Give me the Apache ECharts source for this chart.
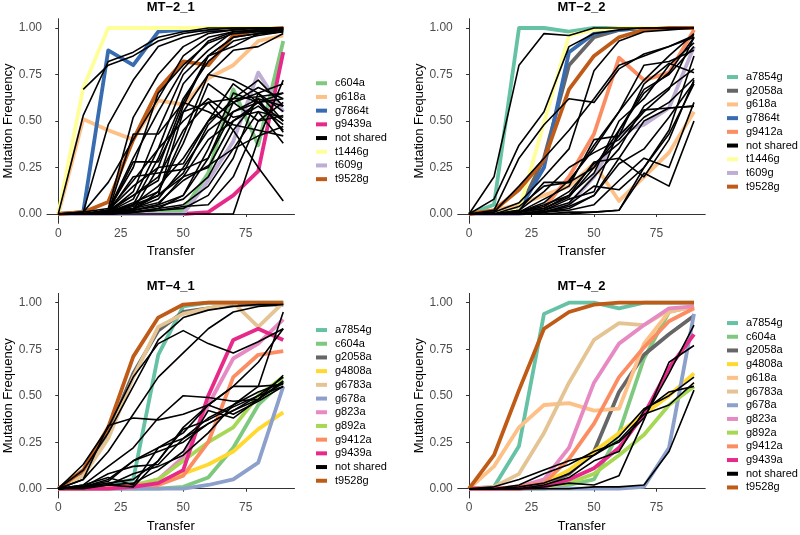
<!DOCTYPE html>
<html>
<head>
<meta charset="utf-8">
<script src="https://cdn.jsdelivr.net/npm/echarts@6/dist/echarts.min.js"></script>
<style>
html,body{margin:0;padding:0;background:#fff;}
#chart{width:800px;height:535px;}
</style>
</head>
<body>
<div id="chart"></div>
<script>
// ---------- DATA ----------
const transfers = [0, 10, 20, 30, 40, 50, 60, 70, 80, 90];
const xTicks = [0, 25, 50, 75];
const yTicks = [0, 0.25, 0.5, 0.75, 1];
const panelTitles = ['MT−2_1', 'MT−2_2', 'MT−4_1', 'MT−4_2'];

// MT-2_1
const mt21Genes = ['c604a', 'g618a', 'g7864t', 'g9439a', 't1446g', 't609g', 't9528g'];
const mt21Freq = [
  [0, 0, 0, 0, 0.01, 0.02, 0.22, 0.67, 0.37, 0.93],
  [0, 0.51, 0.45, 0.40, 0.61, 0.59, 0.73, 0.80, 0.93, 0.96],
  [0, 0.01, 0.88, 0.80, 0.98, 0.99, 0.99, 1, 1, 1],
  [0, 0, 0, 0, 0, 0, 0.01, 0.10, 0.23, 0.87],
  [0, 0.68, 1, 1, 1, 1, 1, 1, 1, 1],
  [0, 0, 0, 0, 0, 0, 0.18, 0.39, 0.76, 0.55],
  [0, 0.01, 0.065, 0.40, 0.67, 0.82, 0.80, 0.96, 0.99, 1]
];
const mt21NotShared = [
  [null, 0.67, 0.80, 0.85, 0.93, 0.97, 0.99, 1, 1, 1],
  [0, 0.53, 0.82, 0.87, 0.95, 0.98, 1, 1, 1, 1],
  [0, 0.01, 0.48, 0.72, 0.90, 0.95, 0.98, 0.99, 1, 1],
  [0, 0.01, 0.03, 0.52, 0.75, 0.90, 0.97, 0.99, 1, 1],
  [0, 0.01, 0.17, 0.40, 0.62, 0.85, 0.95, 0.98, 0.99, 1],
  [0, 0, 0.02, 0.30, 0.55, 0.78, 0.93, 0.98, 0.99, 0.99],
  [0, 0, 0.02, 0.25, 0.65, 0.80, 0.92, 0.97, 0.98, 0.99],
  [0, 0, 0.01, 0.12, 0.45, 0.75, 0.88, 0.98, 0.98, 0.99],
  [0, 0, 0.01, 0.08, 0.35, 0.70, 0.85, 0.95, 0.97, 0.98],
  [0, 0, 0.01, 0.05, 0.30, 0.62, 0.82, 0.93, 0.96, 0.98],
  [0, 0, 0.01, 0.43, 0.43, 0.60, 0.85, 0.90, 0.97, 0.99],
  [0, 0, 0.01, 0.28, 0.28, 0.55, 0.75, 0.88, 0.90, 0.97],
  [0, 0, 0.01, 0.10, 0.20, 0.45, 0.60, 0.62, 0.63, 0.65],
  [0, 0, 0.02, 0.15, 0.25, 0.60, 0.55, 0.48, 0.45, 0.42],
  [0, 0, 0.01, 0.05, 0.15, 0.30, 0.50, 0.60, 0.65, 0.55],
  [0, 0, 0.01, 0.03, 0.08, 0.25, 0.45, 0.55, 0.60, 0.50],
  [0, 0, 0, 0.02, 0.05, 0.20, 0.40, 0.50, 0.58, 0.48],
  [0, 0, 0.01, 0.05, 0.10, 0.55, 0.60, 0.45, 0.25, 0.07],
  [0, 0, 0, 0, 0, 0, 0, 0, 0.40, 0.72],
  [0, 0, 0.01, 0.02, 0.05, 0.10, 0.30, 0.55, 0.62, 0.58],
  [0, 0, 0, 0.02, 0.04, 0.08, 0.20, 0.45, 0.62, 0.44],
  [0, 0, 0, 0.01, 0.03, 0.05, 0.15, 0.35, 0.55, 0.38],
  [0, 0, 0.01, 0.20, 0.22, 0.24, 0.30, 0.60, 0.68, 0.62],
  [0, 0, 0.02, 0.18, 0.35, 0.50, 0.62, 0.52, 0.55, 0.52],
  [0, 0, 0.01, 0.06, 0.12, 0.38, 0.70, 0.60, 0.50, 0.60],
  [0, 0, 0, 0.02, 0.12, 0.42, 0.75, 0.72, 0.65, 0.70],
  [0, 0, 0.01, 0.03, 0.06, 0.18, 0.26, 0.35, 0.42, 0.47],
  [0, 0, 0.02, 0.10, 0.18, 0.58, 0.85, 0.95, 0.97, 0.98],
  [0, 0, 0.01, 0.04, 0.10, 0.22, 0.48, 0.62, 0.72, 0.58],
  [0, 0, 0, 0.01, 0.02, 0.04, 0.05, 0.20, 0.50, 0.53],
  [0, 0, 0, 0.01, 0.03, 0.10, 0.35, 0.65, 0.60, 0.62],
  [0, 0, 0.01, 0.02, 0.25, 0.27, 0.50, 0.70, 0.60, 0.65],
  [0, 0, 0, 0.01, 0.02, 0.03, 0.10, 0.30, 0.65, 0.50],
  [0, 0, 0.01, 0.03, 0.10, 0.20, 0.25, 0.50, 0.60, 0.45]
];

// MT-2_2
const mt22Genes = ['a7854g', 'g2058a', 'g618a', 'g7864t', 'g9412a', 't1446g', 't609g', 't9528g'];
const mt22Freq = [
  [0, 0.05, 1.0, 1.0, 0.98, 1, 1, 1, 1, 1],
  [0, 0.01, 0.02, 0.30, 0.80, 0.95, 0.99, 1, 1, 1],
  [0, 0.02, 0.05, 0.10, 0.15, 0.27, 0.07, 0.20, 0.33, 0.55],
  [0, 0.01, 0.02, 0.25, 0.87, 0.97, 0.99, 1, 1, 1],
  [0, 0, 0.01, 0.03, 0.20, 0.43, 0.84, 0.72, 0.76, 0.99],
  [0, 0.01, 0.02, 0.49, 0.96, 0.99, 1, 1, 1, 1],
  [0, 0, 0, 0.02, 0.05, 0.20, 0.44, 0.48, 0.57, 0.90],
  [0, 0.02, 0.13, 0.29, 0.67, 0.85, 0.95, 0.99, 1, 1]
];
const mt22NotShared = [
  [0, 0.20, 0.80, 0.97, 0.96, 1, 1, 1, 1, 1],
  [0, 0.08, 0.37, 0.55, 0.90, 0.97, 0.99, 1, 1, 1],
  [0, 0.02, 0.30, 0.48, 0.62, 0.60, 0.78, 0.86, 0.90, 0.96],
  [0, 0.01, 0.15, 0.30, 0.45, 0.62, 0.80, 0.85, 0.90, 0.95],
  [0, 0.01, 0.06, 0.20, 0.35, 0.77, 0.93, 0.98, 0.99, 1],
  [0, 0, 0.04, 0.15, 0.17, 0.37, 0.55, 0.80, 0.82, 0.88],
  [0, 0, 0.02, 0.17, 0.17, 0.25, 0.45, 0.65, 0.76, 0.95],
  [0, 0, 0.01, 0.08, 0.15, 0.40, 0.42, 0.70, 0.81, 0.76],
  [0, 0, 0.01, 0.05, 0.10, 0.22, 0.50, 0.62, 0.80, 0.92],
  [0, 0, 0.01, 0.04, 0.12, 0.27, 0.38, 0.52, 0.60, 0.73],
  [0, 0, 0.01, 0.03, 0.09, 0.25, 0.42, 0.56, 0.57, 0.58],
  [0, 0, 0, 0.02, 0.06, 0.20, 0.35, 0.58, 0.68, 0.78],
  [0, 0, 0, 0.01, 0.05, 0.15, 0.13, 0.25, 0.43, 0.70],
  [0, 0, 0, 0.01, 0.03, 0.10, 0.30, 0.20, 0.40, 0.72],
  [0, 0, 0, 0.01, 0.02, 0.05, 0.18, 0.30, 0.25, 0.60],
  [0, 0, 0, 0, 0.01, 0.01, 0.02, 0.25, 0.45, 0.85],
  [0, 0, 0, 0, 0, 0.01, 0.02, 0.22, 0.15, 0.50],
  [0, 0, 0.02, 0.12, 0.25, 0.33, 0.40, 0.55, 0.67, 0.95],
  [0, 0, 0.01, 0.06, 0.18, 0.35, 0.55, 0.72, 0.85, 0.97],
  [0, 0, 0, 0.02, 0.08, 0.12, 0.45, 0.67, 0.75, 0.90],
  [0, 0, 0.01, 0.03, 0.10, 0.28, 0.30, 0.50, 0.57, 0.58],
  [0, 0, 0, 0.01, 0.04, 0.10, 0.27, 0.35, 0.52, 0.71]
];

// MT-4_1
const mt41Genes = ['a7854g', 'c604a', 'g2058a', 'g4808a', 'g6783a', 'g678a', 'g823a', 'g892a', 'g9412a', 'g9439a', 't9528g'];
const mt41Freq = [
  [0, 0.01, 0.02, 0.05, 0.72, 0.98, 1, 1, 1, 1],
  [0, 0, 0, 0, 0, 0.01, 0.06, 0.22, 0.45, 0.58],
  [0, 0.08, 0.30, 0.62, 0.85, 0.95, 0.97, 0.99, 0.99, 0.99],
  [0, 0, 0, 0.01, 0.04, 0.08, 0.13, 0.20, 0.32, 0.41],
  [0, 0.07, 0.27, 0.60, 0.87, 0.94, 0.97, 1, 0.87, 1],
  [0, 0, 0, 0, 0, 0, 0.02, 0.05, 0.14, 0.55],
  [0, 0, 0.01, 0.01, 0.05, 0.17, 0.45, 0.70, 0.78, 0.91],
  [0, 0, 0.01, 0.02, 0.05, 0.15, 0.25, 0.33, 0.50, 0.60],
  [0, 0, 0.01, 0.02, 0.02, 0.07, 0.25, 0.60, 0.72, 0.74],
  [0, 0, 0, 0.01, 0.03, 0.10, 0.50, 0.80, 0.86, 0.80],
  [0, 0.10, 0.33, 0.71, 0.92, 0.99, 1, 1, 1, 1]
];
const mt41NotShared = [
  [0, 0.13, 0.33, 0.60, 0.78, 0.85, 0.78, 0.73, 0.79, 0.86],
  [0, 0.10, 0.30, 0.55, 0.80, 0.92, 0.96, 0.98, 0.99, 0.99],
  [0, 0.05, 0.20, 0.40, 0.60, 0.73, 0.86, 0.95, 0.98, 0.99],
  [0, 0.05, 0.34, 0.38, 0.37, 0.40, 0.45, 0.55, 0.55, 0.56],
  [0, 0.02, 0.12, 0.22, 0.38, 0.50, 0.49, 0.47, 0.48, 0.57],
  [0, 0.01, 0.05, 0.15, 0.22, 0.30, 0.45, 0.55, 0.68, 0.86],
  [0, 0.01, 0.08, 0.12, 0.13, 0.27, 0.38, 0.45, 0.55, 0.95],
  [0, 0.01, 0.04, 0.15, 0.20, 0.25, 0.35, 0.42, 0.48, 0.58],
  [0, 0.01, 0.03, 0.05, 0.15, 0.32, 0.37, 0.44, 0.50, 0.55],
  [0, 0.01, 0.02, 0.03, 0.10, 0.20, 0.42, 0.38, 0.48, 0.61],
  [0, 0, 0.02, 0.08, 0.12, 0.18, 0.30, 0.45, 0.52, 0.57],
  [0, 0.02, 0.06, 0.02, 0.22, 0.27, 0.35, 0.42, 0.50, 0.60],
  [0, 0.01, 0.02, 0.01, 0.15, 0.33, 0.45, 0.40, 0.47, 0.55]
];

// MT-4_2
const mt42Genes = ['a7854g', 'c604a', 'g2058a', 'g4808a', 'g618a', 'g6783a', 'g678a', 'g823a', 'g892a', 'g9412a', 'g9439a', 't9528g'];
const mt42Freq = [
  [0, 0.01, 0.23, 0.94, 1, 1, 0.97, 1, 1, 1],
  [0, 0, 0, 0, 0.02, 0.05, 0.30, 0.70, 0.95, 0.98],
  [0, 0, 0, 0.02, 0.08, 0.20, 0.52, 0.72, 0.83, 0.93],
  [0, 0, 0, 0.03, 0.10, 0.20, 0.30, 0.40, 0.50, 0.62],
  [0, 0.12, 0.33, 0.45, 0.46, 0.42, 0.43, 0.78, 0.95, 0.98],
  [0, 0.01, 0.08, 0.30, 0.57, 0.80, 0.89, 0.88, 0.96, 0.98],
  [0, 0, 0, 0, 0, 0, 0, 0.01, 0.22, 0.94],
  [0, 0, 0.01, 0.05, 0.22, 0.57, 0.78, 0.88, 0.97, 0.98],
  [0, 0, 0, 0.01, 0.03, 0.08, 0.18, 0.29, 0.45, 0.55],
  [0, 0, 0.01, 0.03, 0.16, 0.35, 0.60, 0.76, 0.90, 0.97],
  [0, 0, 0, 0.01, 0.05, 0.11, 0.22, 0.40, 0.65, 0.83],
  [0, 0.18, 0.53, 0.86, 0.95, 0.99, 1, 1, 1, 1]
];
const mt42NotShared = [
  [0, 0.01, 0.05, 0.10, 0.15, 0.18, 0.28, 0.43, 0.50, 0.60],
  [0, 0, 0.01, 0.03, 0.08, 0.18, 0.26, 0.40, 0.45, 0.57],
  [0, 0, 0, 0.01, 0.03, 0.02, 0.07, 0.37, 0.68, 0.77],
  [0, 0, 0, 0, 0, 0.01, 0.01, 0.02, 0.20, 0.53],
  [0, 0, 0, 0.02, 0.06, 0.15, 0.20, 0.42, 0.52, 0.55],
  [0, 0, 0.02, 0.08, 0.13, 0.20, 0.25, 0.38, 0.62, 0.88]
];

// ---------- STYLE ----------
const geneColors = {
  'a7854g': '#66C2A5', 'c604a': '#7FC97F', 'g2058a': '#666666', 'g4808a': '#FFD92F',
  'g618a': '#FDC086', 'g6783a': '#E5C494', 'g678a': '#8DA0CB', 'g823a': '#E78AC3',
  'g892a': '#A6D854', 'g9412a': '#FC8D62', 'g9439a': '#E7298A', 'g7864t': '#386CB0',
  't1446g': '#FFFF99', 't609g': '#BEAED4', 't9528g': '#BF5B17', 'not shared': '#000000'
};
const FONT = 'Liberation Sans, Arial, Helvetica, sans-serif';

const panels = [
  { genes: mt21Genes, freq: mt21Freq, other: mt21NotShared },
  { genes: mt22Genes, freq: mt22Freq, other: mt22NotShared },
  { genes: mt41Genes, freq: mt41Freq, other: mt41NotShared },
  { genes: mt42Genes, freq: mt42Freq, other: mt42NotShared }
];
const gridBoxes = [
  { left: 47, top: 18.7 },
  { left: 457.75, top: 18.7 },
  { left: 47, top: 293.4 },
  { left: 457.75, top: 293.4 }
];
const legendPos = [
  { left: 316, top: 76.4 },
  { left: 727, top: 70.2 },
  { left: 316, top: 323.2 },
  { left: 727, top: 316.2 }
];
const titleTops = [1, 1, 279.5, 279.5];

function toPoints(vals) {
  const out = [];
  vals.forEach((v, k) => { if (v !== null && v !== undefined) out.push([transfers[k], v]); });
  return out;
}

const option = {
  animation: false,
  backgroundColor: '#ffffff',
  textStyle: { fontFamily: FONT },
  title: [], grid: [], xAxis: [], yAxis: [], legend: [], series: []
};

panels.forEach((p, i) => {
  const gb = gridBoxes[i];
  option.grid.push({ left: gb.left, top: gb.top, width: 247.5, height: 204.6, containLabel: false });
  option.title.push({
    text: panelTitles[i], left: gb.left + 123.75, top: titleTops[i], textAlign: 'center', padding: 0,
    textStyle: { fontSize: 13, fontWeight: 'bold', color: '#000', fontFamily: FONT }
  });
  option.xAxis.push({
    type: 'value', gridIndex: i, min: -4.5, max: 94.5,
    name: 'Transfer', nameLocation: 'middle', nameGap: 22,
    nameTextStyle: { fontSize: 13, color: '#000', fontFamily: FONT },
    axisLine: { show: true, lineStyle: { color: '#333333', width: 1 } },
    axisTick: { show: true, length: 3, customValues: xTicks, lineStyle: { color: '#333333', width: 1 } },
    axisLabel: { customValues: xTicks, color: '#4D4D4D', fontSize: 12, margin: 4, fontFamily: FONT },
    splitLine: { show: false }
  });
  option.yAxis.push({
    type: 'value', gridIndex: i, min: -0.05, max: 1.05,
    name: 'Mutation Frequency', nameLocation: 'middle', nameGap: 30,
    nameTextStyle: { fontSize: 13, color: '#000', fontFamily: FONT },
    axisLine: { show: true, lineStyle: { color: '#333333', width: 1 } },
    axisTick: { show: true, length: 3, customValues: yTicks, lineStyle: { color: '#333333', width: 1 } },
    axisLabel: { customValues: yTicks, color: '#4D4D4D', fontSize: 12, margin: 5, fontFamily: FONT,
      formatter: v => Number(v).toFixed(2) },
    splitLine: { show: false }
  });
  const names = p.genes.concat(['not shared']).sort();
  option.legend.push({
    orient: 'vertical', left: legendPos[i].left, top: legendPos[i].top, padding: 0,
    itemWidth: 11, itemHeight: 4, itemGap: 0, icon: 'rect', selectedMode: false,
    textStyle: { fontSize: 11, lineHeight: 13.7, color: '#000', fontFamily: FONT, padding: [0, 0, 0, 3] },
    data: names.map(n => ({ name: n, icon: 'rect', itemStyle: { color: geneColors[n] } }))
  });
  p.freq.forEach((vals, k) => {
    const c = geneColors[p.genes[k]];
    option.series.push({
      type: 'line', name: p.genes[k], xAxisIndex: i, yAxisIndex: i,
      data: toPoints(vals), showSymbol: false, symbol: 'none', silent: true,
      lineStyle: { width: 3.8, color: c, join: 'round', cap: 'butt' },
      itemStyle: { color: c }, z: 2
    });
  });
  p.other.forEach(vals => {
    option.series.push({
      type: 'line', name: 'not shared', xAxisIndex: i, yAxisIndex: i,
      data: toPoints(vals), showSymbol: false, symbol: 'none', silent: true,
      lineStyle: { width: 1.6, color: '#000', join: 'round' },
      itemStyle: { color: '#000' }, z: 3
    });
  });
});

const chart = echarts.init(document.getElementById('chart'), null, { renderer: 'canvas' });
chart.setOption(option);
</script>
</body>
</html>
